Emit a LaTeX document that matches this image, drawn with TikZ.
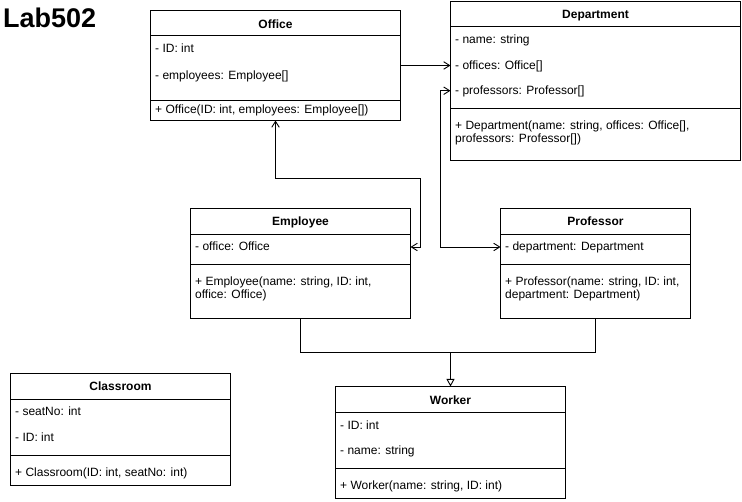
\documentclass[tikz,border=0pt]{standalone}
\usepackage{fontspec}
\setmainfont{Liberation Sans}
\usetikzlibrary{arrows.meta}
\tikzset{
  comp/.style={draw, line width=0.9pt, anchor=north west, inner sep=0pt, outer sep=0pt, fill=white},
  hdr/.style={anchor=base, inner sep=0pt, font=\bfseries\fontsize{12}{14}\selectfont},
  txt/.style={anchor=base west, inner sep=0pt, font=\fontsize{12}{14}\selectfont},
  conn/.style={draw, line width=0.9pt},
  barb/.tip={Straight Barb[length=6pt,width=7.5pt,line width=0.9pt]},
  inh/.tip={Triangle[open,length=7.5pt,width=8pt,line width=0.9pt,fill=white]}
}
\begin{document}
\begin{tikzpicture}[x=1pt,y=-1pt]
\useasboundingbox (0,0) rectangle (742,502);

\node[anchor=base west, inner sep=0pt, font=\bfseries\fontsize{27}{30}\selectfont] (title) at (3,27.3) {Lab502};

% Office
\node[comp, minimum width=250pt, minimum height=25pt] (office-h) at (150.5,10) {};
\node[comp, minimum width=250pt, minimum height=65pt] (office-a) at (150.5,35) {};
\node[comp, minimum width=250pt, minimum height=20.5pt] (office-m) at (150.5,100) {};
\node[hdr] (office-t) at (275.5,28.3) {Office};
\node[txt] (office-a1) at (155,52.3) {- ID: int};
\node[txt] (office-a2) at (155,80) {- employees: Employee[]};
\node[txt] (office-m1) at (155,113.3) {+ Office(ID: int, employees: Employee[])};

% Department
\node[comp, minimum width=290pt, minimum height=25pt] (dept-h) at (450.5,1) {};
\node[comp, minimum width=290pt, minimum height=82.5pt] (dept-a) at (450.5,26) {};
\node[comp, minimum width=290pt, minimum height=51.5pt] (dept-m) at (450.5,108.5) {};
\node[hdr] (dept-t) at (595.5,18.3) {Department};
\node[txt] (dept-a1) at (455,43.6) {- name: string};
\node[txt] (dept-a2) at (455,69.3) {- offices: Office[]};
\node[txt] (dept-a3) at (455,95) {- professors: Professor[]};
\node[txt] (dept-m1) at (455,130) {+ Department(name: string, offices: Office[],};
\node[txt] (dept-m2) at (455,142.6) {professors: Professor[])};

% Employee
\node[comp, minimum width=220pt, minimum height=26pt] (emp-h) at (190.5,208.5) {};
\node[comp, minimum width=220pt, minimum height=30pt] (emp-a) at (190.5,234.5) {};
\node[comp, minimum width=220pt, minimum height=54pt] (emp-m) at (190.5,264.5) {};
\node[hdr] (emp-t) at (300.5,226) {Employee};
\node[txt] (emp-a1) at (195,251) {- office: Office};
\node[txt] (emp-m1) at (195,286) {+ Employee(name: string, ID: int,};
\node[txt] (emp-m2) at (195,298.6) {office: Office)};

% Professor
\node[comp, minimum width=190pt, minimum height=26pt] (prof-h) at (500.5,208.5) {};
\node[comp, minimum width=190pt, minimum height=30pt] (prof-a) at (500.5,234.5) {};
\node[comp, minimum width=190pt, minimum height=54pt] (prof-m) at (500.5,264.5) {};
\node[hdr] (prof-t) at (595.5,226) {Professor};
\node[txt] (prof-a1) at (505,251) {- department: Department};
\node[txt] (prof-m1) at (505,285.5) {+ Professor(name: string, ID: int,};
\node[txt] (prof-m2) at (505,298.6) {department: Department)};

% Worker
\node[comp, minimum width=230pt, minimum height=26pt] (work-h) at (335.5,386.5) {};
\node[comp, minimum width=230pt, minimum height=55.5pt] (work-a) at (335.5,412.5) {};
\node[comp, minimum width=230pt, minimum height=30.5pt] (work-m) at (335.5,468) {};
\node[hdr] (work-t) at (450.5,404.3) {Worker};
\node[txt] (work-a1) at (340,429.3) {- ID: int};
\node[txt] (work-a2) at (340,455) {- name: string};
\node[txt] (work-m1) at (340,489.3) {+ Worker(name: string, ID: int)};

% Classroom
\node[comp, minimum width=220pt, minimum height=26pt] (cls-h) at (10.5,373.5) {};
\node[comp, minimum width=220pt, minimum height=56pt] (cls-a) at (10.5,399.5) {};
\node[comp, minimum width=220pt, minimum height=30pt] (cls-m) at (10.5,455.5) {};
\node[hdr] (cls-t) at (120.5,391) {Classroom};
\node[txt] (cls-a1) at (15,416) {- seatNo: int};
\node[txt] (cls-a2) at (15,442) {- ID: int};
\node[txt] (cls-m1) at (15,477) {+ Classroom(ID: int, seatNo: int)};

% connectors
\draw[conn, -barb] (office-a.east |- 0,65.5) -- (dept-a.west |- 0,65.5);
\draw[conn, barb-barb] (office-m.south) -- ++(0,58) -| (420.5,247) -- (emp-a.east |- 0,247);
\draw[conn, barb-barb] (dept-a.west |- 0,90.7) -- (440.5,90.7) |- (prof-a.west |- 0,247);
\coordinate (junc) at (450.5,352.5);
\draw[conn] (emp-m.south) |- (junc) -| (prof-m.south);
\draw[conn, -inh] (junc) -- (work-h.north);
\end{tikzpicture}
\end{document}
